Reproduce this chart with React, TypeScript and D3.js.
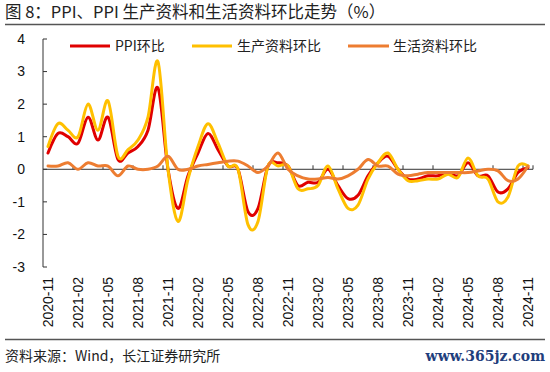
import { useEffect, useRef } from 'react';
import * as d3 from 'd3';

// 月份：2020-11 到 2024-11
const months: string[] = [
  '2020-11', '2020-12', '2021-01', '2021-02', '2021-03', '2021-04', '2021-05', '2021-06', '2021-07', '2021-08',
  '2021-09', '2021-10', '2021-11', '2021-12', '2022-01', '2022-02', '2022-03', '2022-04', '2022-05', '2022-06',
  '2022-07', '2022-08', '2022-09', '2022-10', '2022-11', '2022-12', '2023-01', '2023-02', '2023-03', '2023-04',
  '2023-05', '2023-06', '2023-07', '2023-08', '2023-09', '2023-10', '2023-11', '2023-12', '2024-01', '2024-02',
  '2024-03', '2024-04', '2024-05', '2024-06', '2024-07', '2024-08', '2024-09', '2024-10', '2024-11',
];

const ppiMom: number[] = [
  0.5, 1.1, 1.0, 0.8, 1.6, 0.9, 1.6, 0.3, 0.5, 0.7,
  1.2, 2.5, 0.0, -1.2, -0.2, 0.5, 1.1, 0.6, 0.1, 0.0,
  -1.3, -1.2, 0.1, 0.2, 0.1, -0.5, -0.4, -0.4, 0.0, -0.5,
  -0.9, -0.8, -0.2, 0.2, 0.4, 0.0, -0.3, -0.3, -0.2, -0.2,
  -0.1, -0.2, 0.2, -0.2, -0.2, -0.7, -0.6, -0.1, 0.05,
];

const producerMom: number[] = [
  0.7, 1.4, 1.2, 1.0, 2.0, 1.2, 2.1, 0.4, 0.6, 0.9,
  1.6, 3.3, 0.0, -1.6, -0.3, 0.7, 1.4, 0.8, 0.1, 0.0,
  -1.7, -1.6, 0.1, 0.1, 0.1, -0.6, -0.6, -0.5, 0.1, -0.6,
  -1.2, -1.1, -0.3, 0.2, 0.5, 0.0, -0.35, -0.35, -0.3, -0.3,
  -0.15, -0.25, 0.35, -0.2, -0.3, -1.0, -0.85, 0.1, 0.1,
];

const consumerMom: number[] = [
  0.1, 0.1, 0.2, 0.0, 0.2, 0.1, 0.1, -0.2, 0.1, 0.0,
  0.0, 0.1, 0.4, 0.0, 0.0, 0.1, 0.15, 0.2, 0.25, 0.25,
  0.1, -0.1, 0.1, 0.5, 0.0, -0.2, -0.3, -0.3, -0.25, -0.3,
  -0.2, 0.0, 0.3, 0.1, 0.1, -0.15, -0.2, -0.15, -0.1, -0.1,
  -0.1, -0.1, -0.1, -0.05, 0.0, -0.05, -0.35, -0.3, 0.1,
];

const yTicks: number[] = [4, 3, 2, 1, 0, -1, -2, -3];

const seriesNames = ['PPI环比', '生产资料环比', '生活资料环比'];
const seriesColors = ['#E00000', '#FFC000', '#ED7D31'];

const FONT = '"Liberation Sans", Arial, "Noto Sans CJK SC", sans-serif';
const CJK = '"Noto Sans CJK SC", "Liberation Sans", sans-serif';

const App = () => {
  const svgRef = useRef<SVGSVGElement>(null);

  useEffect(() => {
    if (!svgRef.current) return;
    const svg = d3.select(svgRef.current);
    svg.selectAll('*').remove();

    const width = 550;
    const height = 372;
    const left = 43;
    const right = 533;
    const top = 39;
    const bottom = 267;

    const x = d3.scaleBand<string>().domain(months).range([left, right]);
    const y = d3.scaleLinear().domain([-3, 4]).range([bottom, top]);
    const cx = (m: string) => (x(m) as number) + x.bandwidth() / 2;

    svg.append('rect').attr('width', width).attr('height', height).attr('fill', '#fff');

    // 标题
    svg.append('text')
      .attr('x', 5)
      .attr('y', 18)
      .attr('font-family', CJK)
      .attr('font-size', 16.5)
      .attr('fill', '#222')
      .attr('xml:space', 'preserve')
      .text('图 8：PPI、PPI 生产资料和生活资料环比走势（%）');

    svg.append('line')
      .attr('x1', 5).attr('x2', 545)
      .attr('y1', 24.5).attr('y2', 24.5)
      .attr('stroke', '#555').attr('stroke-width', 1.5);

    // y 轴
    const yAxis = svg.append('g');
    yAxis.append('line')
      .attr('x1', left).attr('x2', left)
      .attr('y1', top).attr('y2', bottom)
      .attr('stroke', '#333').attr('stroke-width', 1);
    yAxis.selectAll('.ytick')
      .data(yTicks)
      .enter()
      .append('line')
        .attr('x1', left).attr('x2', left + 4)
        .attr('y1', d => y(d)).attr('y2', d => y(d))
        .attr('stroke', '#333');
    yAxis.selectAll('.ylabel')
      .data(yTicks)
      .enter()
      .append('text')
        .attr('x', 25)
        .attr('y', d => y(d))
        .attr('dy', '0.35em')
        .attr('text-anchor', 'end')
        .attr('font-family', FONT)
        .attr('font-size', 14)
        .attr('fill', '#111')
        .text(d => String(d));

    // x 轴（零线）
    const y0 = y(0);
    svg.append('line')
      .attr('x1', left).attr('x2', right)
      .attr('y1', y0).attr('y2', y0)
      .attr('stroke', '#333');

    const tickIdx = months.map((_, i) => i).filter(i => i % 3 === 0);
    svg.selectAll('.xtick')
      .data(tickIdx.slice(1).concat([months.length]))
      .enter()
      .append('line')
        .attr('x1', i => left + i * x.bandwidth())
        .attr('x2', i => left + i * x.bandwidth())
        .attr('y1', y0).attr('y2', y0 - 4)
        .attr('stroke', '#333');

    svg.selectAll('.xlabel')
      .data(tickIdx)
      .enter()
      .append('text')
        .attr('transform', i => `translate(${cx(months[i])},277) rotate(-90)`)
        .attr('text-anchor', 'end')
        .attr('dy', '0.35em')
        .attr('font-family', FONT)
        .attr('font-size', 14)
        .attr('fill', '#111')
        .text(i => months[i]);

    // 折线
    const allSeries = [ppiMom, producerMom, consumerMom];
    const line = d3.line<number>()
      .x((_, i) => cx(months[i]))
      .y(d => y(d))
      .curve(d3.curveCardinal.tension(0));

    allSeries.forEach((s, k) => {
      svg.append('path')
        .datum(s)
        .attr('d', line)
        .attr('fill', 'none')
        .attr('stroke', seriesColors[k])
        .attr('stroke-width', 3)
        .attr('stroke-linejoin', 'round')
        .attr('stroke-linecap', 'round');
    });

    // 图例
    const legendPos = [[70, 110, 115], [192, 232, 237], [348, 389, 393]];
    legendPos.forEach(([x1, x2, tx], k) => {
      svg.append('line')
        .attr('x1', x1).attr('x2', x2)
        .attr('y1', 46).attr('y2', 46)
        .attr('stroke', seriesColors[k])
        .attr('stroke-width', 3);
      svg.append('text')
        .attr('x', tx)
        .attr('y', 46)
        .attr('dy', '0.35em')
        .attr('font-family', CJK)
        .attr('font-size', 14)
        .attr('fill', '#222')
        .text(seriesNames[k]);
    });

    // 底部
    svg.append('line')
      .attr('x1', 5).attr('x2', 545)
      .attr('y1', 339.5).attr('y2', 339.5)
      .attr('stroke', '#555').attr('stroke-width', 1.5);

    svg.append('text')
      .attr('x', 5)
      .attr('y', 356)
      .attr('dy', '0.35em')
      .attr('font-family', CJK)
      .attr('font-size', 14)
      .attr('fill', '#222')
      .text('资料来源：Wind，长江证券研究所');

    svg.append('text')
      .attr('x', 545)
      .attr('y', 356)
      .attr('dy', '0.35em')
      .attr('text-anchor', 'end')
      .attr('font-family', '"DejaVu Serif", serif')
      .attr('font-size', 14)
      .attr('font-weight', 'bold')
      .attr('fill', '#1F3E7C')
      .text('www.365jz.com');
  }, []);

  return (
    <svg
      ref={svgRef}
      width={550}
      height={372}
      viewBox="0 0 550 372"
      style={{ position: 'absolute', left: 0, top: 0 }}
    />
  );
};

export default App;
